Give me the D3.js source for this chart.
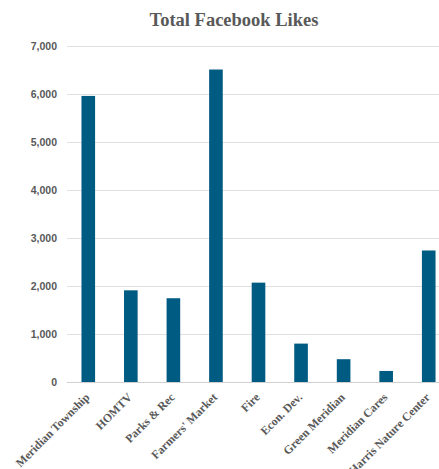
<!DOCTYPE html>
<html>
<head>
<meta charset="utf-8">
<script src="https://cdn.jsdelivr.net/npm/d3@7"></script>
<style>
  body { margin: 0; background: #fff; }
  svg { display: block; }
</style>
</head>
<body>
<div id="chart"></div>
<script>
// data
const categories = ['Meridian Township', 'HOMTV', 'Parks & Rec', "Farmers' Market", 'Fire',
  'Econ. Dev.', 'Green Meridian', 'Meridian Cares', 'Harris Nature Center'];
const likes = [5960, 1910, 1745, 6510, 2070, 800, 475, 230, 2740];
const yTicks = [0, 1000, 2000, 3000, 4000, 5000, 6000, 7000];

const width = 439, height = 469;
const margin = {top: 46, left: 67, bottom: 87};
const plotRight = 450; // plot runs past the right edge, as in the reference

const svg = d3.select('#chart').append('svg')
  .attr('width', width)
  .attr('height', height);

const x = d3.scaleBand()
  .domain(categories)
  .range([margin.left, plotRight])
  .paddingInner(0.68)
  .paddingOuter(0.34);

const y = d3.scaleLinear()
  .domain([0, 7000])
  .range([height - margin.bottom, margin.top]);

// title
svg.append('text')
  .attr('x', 234)
  .attr('y', 26)
  .attr('text-anchor', 'middle')
  .attr('font-family', 'Liberation Serif, serif')
  .attr('font-weight', 'bold')
  .attr('font-size', 18.5)
  .attr('fill', '#595959')
  .text('Total Facebook Likes');

// gridlines
svg.append('g')
  .selectAll('line')
  .data(yTicks)
  .enter()
  .append('line')
  .attr('x1', margin.left)
  .attr('x2', plotRight)
  .attr('y1', d => Math.round(y(d)) + 0.5)
  .attr('y2', d => Math.round(y(d)) + 0.5)
  .attr('stroke', d => d === 0 ? '#d0d0d0' : '#e0e0e0')
  .attr('stroke-width', 1);

// y axis labels
const yAxis = svg.append('g')
  .attr('transform', 'translate(' + (margin.left - 10) + ',0)')
  .call(d3.axisLeft(y).tickValues(yTicks).tickFormat(d3.format(',')).tickSize(0).tickPadding(0));
yAxis.select('.domain').remove();
yAxis.selectAll('text')
  .attr('font-family', 'Liberation Sans, Arial, sans-serif')
  .attr('font-weight', 'bold')
  .attr('font-size', 10.5)
  .attr('fill', '#595959');

// bars
svg.append('g')
  .selectAll('rect')
  .data(likes)
  .enter()
  .append('rect')
  .attr('x', (d, i) => x(categories[i]))
  .attr('y', d => y(d))
  .attr('width', x.bandwidth())
  .attr('height', d => y(0) - y(d))
  .attr('fill', '#005b82');

// category labels, rotated
const xAxis = svg.append('g')
  .attr('transform', 'translate(0,' + y(0) + ')')
  .call(d3.axisBottom(x).tickSize(0).tickPadding(0));
xAxis.select('.domain').remove();
xAxis.selectAll('text')
  .attr('font-family', 'Liberation Serif, serif')
  .attr('font-weight', 'bold')
  .attr('font-size', 11.8)
  .attr('fill', '#595959')
  .attr('text-anchor', 'end')
  .attr('dy', null)
  .attr('transform', 'translate(2,16) rotate(-45)');
</script>
</body>
</html>
